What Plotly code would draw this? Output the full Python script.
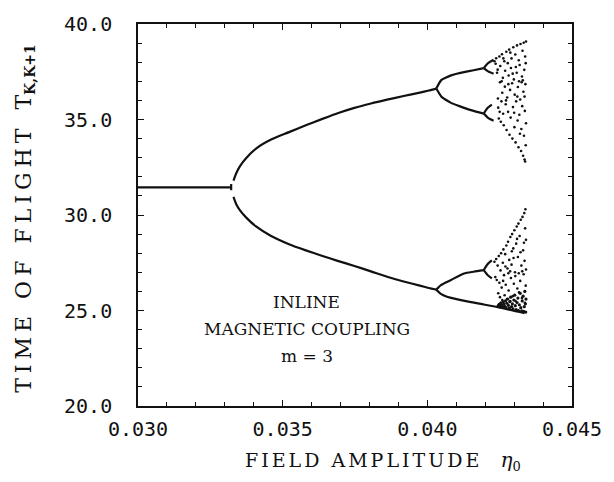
import plotly.graph_objects as go

# ---- bifurcation branches (field amplitude eta0, time of flight T) ----
p1_eta = [0.0300, 0.0310, 0.0320, 0.03322]
p1_T = [31.45, 31.45, 31.45, 31.45]

p1_end_eta = [0.03322, 0.03322]
p1_end_T = [31.30, 31.62]

p2_eta = [0.03330, 0.03340, 0.03352, 0.03375, 0.03408, 0.03460, 0.03522, 0.03580,
          0.03635, 0.03690, 0.03748, 0.03805, 0.03861, 0.03918, 0.03974, 0.04005, 0.04031]
p2_upper_T = [31.80, 32.20, 32.55, 33.00, 33.48, 33.95, 34.34, 34.70,
              35.02, 35.33, 35.61, 35.84, 36.04, 36.23, 36.41, 36.52, 36.62]
p2_lower_T = [30.95, 30.55, 30.26, 29.85, 29.40, 28.90, 28.47, 28.15,
              27.87, 27.60, 27.33, 27.05, 26.77, 26.52, 26.30, 26.18, 26.09]

p4_top_eta = [0.04031, 0.04048, 0.04065, 0.04082, 0.04105, 0.04127, 0.04160, 0.04195]
p4_top_hi_T = [36.62, 37.06, 37.20, 37.31, 37.41, 37.48, 37.58, 37.69]
p4_top_lo_T = [36.62, 36.21, 36.02, 35.87, 35.73, 35.61, 35.45, 35.31]

p4_bot_hi_eta = [0.04031, 0.04048, 0.04082, 0.04127, 0.04160, 0.04195]
p4_bot_hi_T = [26.09, 26.34, 26.60, 26.94, 27.03, 27.11]
p4_bot_lo_eta = [0.04031, 0.04048, 0.04082, 0.04161, 0.04251, 0.04336]
p4_bot_lo_T = [26.09, 25.86, 25.66, 25.41, 25.15, 24.86]

p8_segments = [
    ([0.04195, 0.04210, 0.04229], [37.69, 37.95, 38.13]),
    ([0.04195, 0.04210, 0.04229], [37.69, 37.52, 37.40]),
    ([0.04195, 0.04208, 0.04223], [35.31, 35.60, 35.78]),
    ([0.04195, 0.04210, 0.04229], [35.31, 35.08, 34.93]),
    ([0.04195, 0.04208, 0.04223], [27.11, 27.42, 27.62]),
    ([0.04195, 0.04208, 0.04223], [27.11, 26.86, 26.68]),
]

# ---- chaotic region, upper band ----
chaos_up_eta = [0.04232, 0.04236, 0.04238, 0.04241, 0.04243, 0.04245, 0.04247, 0.04249, 0.04251,
                0.04252, 0.04254, 0.04256, 0.04258, 0.04259, 0.04261, 0.04262, 0.04264, 0.04266,
                0.04268, 0.04269, 0.04271, 0.04273, 0.04274, 0.04276, 0.04278, 0.04279, 0.04281,
                0.04283, 0.04284, 0.04286, 0.04288, 0.04289, 0.04291, 0.04293, 0.04294, 0.04296,
                0.04297, 0.04299, 0.04301, 0.04302, 0.04304, 0.04305, 0.04307, 0.04309, 0.04310,
                0.04312, 0.04313, 0.04315, 0.04316, 0.04318, 0.04319, 0.04321, 0.04322, 0.04324,
                0.04325, 0.04327, 0.04328, 0.04329, 0.04331, 0.04332, 0.04333, 0.04334, 0.04335,
                0.04336, 0.04337, 0.04338, 0.04339, 0.04340, 0.04341, 0.04341, 0.04340, 0.04338,
                0.04336, 0.04330, 0.04326, 0.04320, 0.04317, 0.04311, 0.04306, 0.04300, 0.04295,
                0.04287, 0.04280, 0.04272, 0.04263, 0.04257, 0.04250, 0.04244]
chaos_up_T = [38.05, 37.92, 38.21, 37.45, 37.61, 35.62, 35.05, 38.30, 36.95,
              37.80, 34.88, 35.95, 38.42, 36.40, 37.18, 35.30, 34.70, 38.05,
              36.72, 37.55, 35.80, 38.55, 34.45, 36.15, 37.95, 35.40, 37.30,
              38.66, 34.20, 36.55, 35.10, 37.70, 38.20, 36.90, 34.00, 35.65,
              38.78, 37.10, 34.60, 36.30, 38.40, 33.80, 35.95, 37.45, 38.88,
              34.95, 36.70, 33.55, 38.10, 35.25, 37.85, 36.05, 38.95, 33.35,
              34.50, 37.25, 35.70, 38.60, 33.10, 36.45, 39.02, 34.15, 37.60,
              32.90, 35.45, 38.30, 36.85, 33.65, 39.08, 34.80, 37.95, 32.80,
              36.20, 37.05, 36.95, 34.25, 37.00, 36.20, 37.75, 35.35, 37.40,
              38.50, 36.85, 36.00, 38.20, 37.00, 35.40, 36.10]

# ---- chaotic region, lower band ----
chaos_lo_eta = [0.04232, 0.04235, 0.04238, 0.04240, 0.04243, 0.04245, 0.04247, 0.04249, 0.04251,
                0.04253, 0.04255, 0.04257, 0.04259, 0.04261, 0.04263, 0.04265, 0.04267, 0.04269,
                0.04271, 0.04273, 0.04275, 0.04277, 0.04279, 0.04281, 0.04283, 0.04285, 0.04287,
                0.04289, 0.04291, 0.04293, 0.04295, 0.04297, 0.04299, 0.04301, 0.04303, 0.04305,
                0.04307, 0.04309, 0.04311, 0.04313, 0.04315, 0.04317, 0.04319, 0.04321, 0.04323,
                0.04325, 0.04327, 0.04329, 0.04331, 0.04333, 0.04335, 0.04336, 0.04337, 0.04338,
                0.04339, 0.04340, 0.04341, 0.04341, 0.04334, 0.04328, 0.04322, 0.04316, 0.04310,
                0.04304, 0.04298, 0.04292, 0.04286, 0.04280, 0.04270, 0.04262]
chaos_lo_T = [27.55, 26.75, 27.70, 26.60, 27.35, 25.90, 27.85, 26.45, 25.70,
              27.10, 28.00, 26.20, 25.55, 27.50, 28.20, 26.85, 25.80, 27.95,
              26.35, 28.40, 25.60, 27.20, 28.60, 26.05, 27.65, 25.45, 28.85,
              26.70, 27.40, 29.00, 25.75, 28.25, 26.40, 29.20, 27.00, 25.50,
              28.50, 29.40, 26.15, 27.80, 29.55, 25.95, 28.90, 26.55, 29.75,
              27.35, 25.65, 29.90, 28.15, 26.90, 30.10, 27.60, 25.40, 29.30,
              30.30, 26.30, 28.70, 27.15, 28.55, 27.05, 28.05, 26.95, 28.75,
              26.80, 27.75, 28.10, 27.05, 26.95, 27.30, 26.55]

# ---- dense cluster just above the lowest branch ----
dense_eta = [0.04245, 0.04248, 0.04251, 0.04254, 0.04256, 0.04259, 0.04262, 0.04264, 0.04267,
             0.04270, 0.04272, 0.04275, 0.04278, 0.04280, 0.04283, 0.04286, 0.04288, 0.04291,
             0.04294, 0.04296, 0.04299, 0.04302, 0.04304, 0.04307, 0.04310, 0.04313, 0.04315,
             0.04318, 0.04321, 0.04323, 0.04326, 0.04328, 0.04331, 0.04333, 0.04335, 0.04337,
             0.04339, 0.04340, 0.04341]
dense_T = [25.25, 25.32, 25.20, 25.40, 25.28, 25.18, 25.45, 25.33, 25.22,
           25.50, 25.15, 25.38, 25.60, 25.27, 25.12, 25.48, 25.70, 25.20,
           25.35, 25.08, 25.55, 25.80, 25.25, 25.05, 25.42, 25.65, 25.00,
           25.30, 25.90, 25.15, 24.98, 25.50, 25.75, 24.95, 25.20, 26.00,
           25.35, 24.92, 25.60]

# ---- axes ----
x_tickvals = [0.030, 0.035, 0.040, 0.045]
x_ticktext = ["0.030", "0.035", "0.040", "0.045"]
y_tickvals = [20, 25, 30, 35, 40]
y_ticktext = ["20.0", "25.0", "30.0", "35.0", "40.0"]

# ---- in-plot label ----
label_lines = ["INLINE", "MAGNETIC COUPLING", "m = 3"]
label_eta = 0.03584
label_T = [25.46, 24.03, 22.60]

INK = "#111111"
LINE_W = 2.2

fig = go.Figure()


def add_line(xs, ys):
    fig.add_trace(go.Scatter(x=xs, y=ys, mode="lines",
                             line=dict(color=INK, width=LINE_W, shape="spline", smoothing=0.6),
                             hoverinfo="skip", showlegend=False))


add_line(p1_eta, p1_T)
add_line(p1_end_eta, p1_end_T)
add_line(p2_eta, p2_upper_T)
add_line(p2_eta, p2_lower_T)
add_line(p4_top_eta, p4_top_hi_T)
add_line(p4_top_eta, p4_top_lo_T)
add_line(p4_bot_hi_eta, p4_bot_hi_T)
add_line(p4_bot_lo_eta, p4_bot_lo_T)
for xs, ys in p8_segments:
    add_line(xs, ys)

for xs, ys, sz in [(chaos_up_eta, chaos_up_T, 2.6),
                   (chaos_lo_eta, chaos_lo_T, 2.6),
                   (dense_eta, dense_T, 3.2)]:
    fig.add_trace(go.Scatter(x=xs, y=ys, mode="markers",
                             marker=dict(color=INK, size=sz, line=dict(width=0)),
                             hoverinfo="skip", showlegend=False))

tick_font = dict(family="DejaVu Sans Mono", size=20, color=INK)
serif = "DejaVu Serif"


def styled(t, size, extra=""):
    return f'<span style="font-size:{size}px;{extra}">{t}</span>'


fig.update_layout(
    width=614, height=482,
    margin=dict(l=138, r=34, t=14, b=76),
    paper_bgcolor="white", plot_bgcolor="white",
    xaxis=dict(range=[0.030, 0.045], tickvals=x_tickvals, ticktext=x_ticktext,
               ticks="inside", ticklen=6, tickwidth=1.3, tickcolor=INK,
               minor=dict(dtick=0.001, ticks="inside", ticklen=4, tickwidth=1.2, tickcolor=INK),
               showline=True, linecolor=INK, linewidth=1.6, mirror="ticks",
               showgrid=False, zeroline=False, tickfont=tick_font, ticklabelstandoff=4),
    yaxis=dict(range=[20, 40], tickvals=y_tickvals, ticktext=y_ticktext,
               ticks="inside", ticklen=6, tickwidth=1.3, tickcolor=INK,
               minor=dict(dtick=1, ticks="inside", ticklen=4, tickwidth=1.2, tickcolor=INK),
               showline=True, linecolor=INK, linewidth=1.6, mirror="ticks",
               showgrid=False, zeroline=False, tickfont=tick_font,
               ticklabelstandoff=20),
)

# axis titles
x_title = (styled("FIELD AMPLITUDE", 19, "letter-spacing:3px")
           + "\u00a0\u00a0\u00a0"
           + styled("η", 20, "font-style:italic")
           + styled("0", 13, "baseline-shift:-30%"))
fig.add_annotation(xref="paper", yref="paper", x=0.5, y=0, xshift=28, yshift=-55,
                   xanchor="center", yanchor="middle", showarrow=False,
                   text=x_title, font=dict(family=serif, size=19, color=INK))

y_title = (styled("TIME OF FLIGHT", 22, "letter-spacing:5px")
           + "\u00a0\u00a0T"
           + styled("K,K+1", 14, "font-weight:bold;baseline-shift:-30%"))
fig.add_annotation(xref="paper", yref="paper", x=0, y=0.49, xshift=-113,
                   xanchor="center", yanchor="middle", showarrow=False, textangle=-90,
                   text=y_title, font=dict(family=serif, size=22, color=INK))

for t, yv in zip(label_lines, label_T):
    fig.add_annotation(x=label_eta, y=yv, xref="x", yref="y", showarrow=False,
                       xanchor="center", yanchor="middle", text=t,
                       font=dict(family=serif, size=17, color=INK))

fig.write_html("out.html")
